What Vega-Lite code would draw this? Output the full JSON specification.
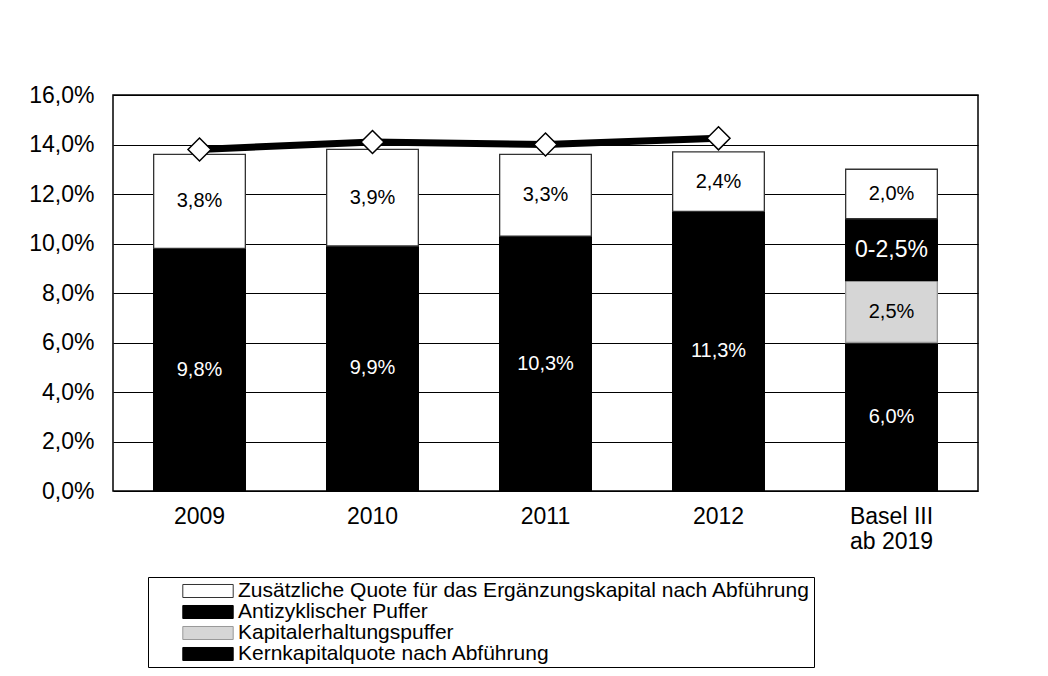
{
  "$schema": "https://vega.github.io/schema/vega-lite/v6.json",
  "width": 865,
  "height": 396,
  "autosize": "none",
  "padding": {"left": 113, "top": 95, "right": 70, "bottom": 185},
  "background": "white",
  "config": {
    "font": "Liberation Sans",
    "view": {"stroke": "black", "strokeWidth": 1.5}
  },
  "datasets": {
    "bars": [
      {"jahr": "2009", "komponente": "Kernkapitalquote nach Abführung", "rang": 1, "wert": 9.8, "label": "9,8%"},
      {"jahr": "2009", "komponente": "Zusätzliche Quote für das Ergänzungskapital nach Abführung", "rang": 4, "wert": 3.8, "label": "3,8%"},
      {"jahr": "2010", "komponente": "Kernkapitalquote nach Abführung", "rang": 1, "wert": 9.9, "label": "9,9%"},
      {"jahr": "2010", "komponente": "Zusätzliche Quote für das Ergänzungskapital nach Abführung", "rang": 4, "wert": 3.9, "label": "3,9%"},
      {"jahr": "2011", "komponente": "Kernkapitalquote nach Abführung", "rang": 1, "wert": 10.3, "label": "10,3%"},
      {"jahr": "2011", "komponente": "Zusätzliche Quote für das Ergänzungskapital nach Abführung", "rang": 4, "wert": 3.3, "label": "3,3%"},
      {"jahr": "2012", "komponente": "Kernkapitalquote nach Abführung", "rang": 1, "wert": 11.3, "label": "11,3%"},
      {"jahr": "2012", "komponente": "Zusätzliche Quote für das Ergänzungskapital nach Abführung", "rang": 4, "wert": 2.4, "label": "2,4%"},
      {"jahr": "Basel III ab 2019", "komponente": "Kernkapitalquote nach Abführung", "rang": 1, "wert": 6.0, "label": "6,0%"},
      {"jahr": "Basel III ab 2019", "komponente": "Kapitalerhaltungspuffer", "rang": 2, "wert": 2.5, "label": "2,5%"},
      {"jahr": "Basel III ab 2019", "komponente": "Antizyklischer Puffer", "rang": 3, "wert": 2.5, "label": "0-2,5%"},
      {"jahr": "Basel III ab 2019", "komponente": "Zusätzliche Quote für das Ergänzungskapital nach Abführung", "rang": 4, "wert": 2.0, "label": "2,0%"}
    ],
    "quote": [
      {"jahr": "2009", "wert": 13.8},
      {"jahr": "2010", "wert": 14.1},
      {"jahr": "2011", "wert": 14.0},
      {"jahr": "2012", "wert": 14.25}
    ]
  },
  "encoding": {
    "x": {
      "field": "jahr",
      "type": "nominal",
      "scale": {"domain": ["2009", "2010", "2011", "2012", "Basel III ab 2019"], "paddingInner": 0.47, "paddingOuter": 0.235},
      "axis": {
        "title": null,
        "labelAngle": 0,
        "labelFontSize": 23,
        "labelColor": "black",
        "labelPadding": 14,
        "labelLineHeight": 25,
        "ticks": false,
        "domain": false,
        "labelExpr": "datum.label == 'Basel III ab 2019' ? ['Basel III', 'ab 2019'] : datum.label"
      }
    }
  },
  "layer": [
    {
      "data": {"name": "bars"},
      "transform": [
        {"stack": "wert", "groupby": ["jahr"], "sort": [{"field": "rang"}], "as": ["v0", "v1"]}
      ],
      "mark": {"type": "bar", "strokeWidth": 1.3},
      "encoding": {
        "y": {
          "field": "v0",
          "type": "quantitative",
          "scale": {"domain": [0, 16], "nice": false},
          "axis": {
            "title": null,
            "values": [0, 2, 4, 6, 8, 10, 12, 14, 16],
            "labelExpr": "replace(format(datum.value, '.1f'), '.', ',') + '%'",
            "labelFontSize": 23,
            "labelColor": "black",
            "labelPadding": 19,
            "ticks": false,
            "domain": false,
            "grid": true,
            "gridColor": "black",
            "gridWidth": 1,
            "gridOpacity": 1
          }
        },
        "y2": {"field": "v1"},
        "fill": {
          "field": "komponente",
          "type": "nominal",
          "scale": {
            "domain": ["Zusätzliche Quote für das Ergänzungskapital nach Abführung", "Antizyklischer Puffer", "Kapitalerhaltungspuffer", "Kernkapitalquote nach Abführung"],
            "range": ["#ffffff", "#000000", "#d6d6d6", "#000000"]
          },
          "legend": {
            "title": null,
            "orient": "none",
            "legendX": 35,
            "legendY": 482,
            "padding": 3,
            "strokeColor": "black",
            "fillColor": "white",
            "labelFontSize": 21,
            "labelColor": "black",
            "labelLimit": 900,
            "symbolType": "M-2.4,-0.62H2.4V0.62H-2.4Z",
            "symbolSize": 441,
            "symbolStrokeWidth": 1,
            "symbolOffset": 46,
            "labelOffset": 19,
            "rowPadding": 0
          }
        },
        "stroke": {
          "field": "komponente",
          "type": "nominal",
          "scale": {
            "domain": ["Zusätzliche Quote für das Ergänzungskapital nach Abführung", "Antizyklischer Puffer", "Kapitalerhaltungspuffer", "Kernkapitalquote nach Abführung"],
            "range": ["#333333", "#000000", "#999999", "#000000"]
          },
          "legend": null
        }
      }
    },
    {
      "data": {"name": "bars"},
      "transform": [
        {"stack": "wert", "groupby": ["jahr"], "sort": [{"field": "rang"}], "as": ["v0", "v1"]},
        {"calculate": "(datum.v0 + datum.v1) / 2", "as": "mitte"}
      ],
      "mark": {"type": "text", "font": "Liberation Sans", "baseline": "middle"},
      "encoding": {
        "y": {"field": "mitte", "type": "quantitative"},
        "text": {"field": "label"},
        "size": {"condition": {"test": "datum.label == '0-2,5%'", "value": 23}, "value": 20},
        "color": {"condition": {"test": "datum.rang == 1 || datum.rang == 3", "value": "white"}, "value": "black"}
      }
    },
    {
      "data": {"name": "quote"},
      "mark": {"type": "line", "color": "black", "strokeWidth": 7},
      "encoding": {
        "y": {"field": "wert", "type": "quantitative"}
      }
    },
    {
      "data": {"name": "quote"},
      "mark": {"type": "point", "shape": "diamond", "filled": true, "fill": "white", "stroke": "black", "strokeWidth": 1.5, "size": 530, "opacity": 1},
      "encoding": {
        "y": {"field": "wert", "type": "quantitative"}
      }
    }
  ]
}
